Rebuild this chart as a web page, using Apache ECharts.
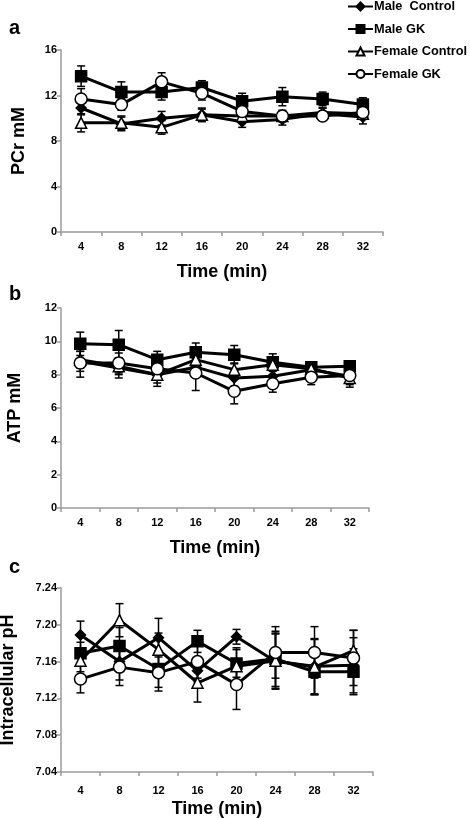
<!DOCTYPE html>
<html><head><meta charset="utf-8">
<script src="https://cdn.jsdelivr.net/npm/echarts@6/dist/echarts.min.js"></script>
<style>html,body{margin:0;padding:0;background:#fff}#c{width:470px;height:818px}</style>
</head><body><div id="c"></div>
<script>
const times = ['4','8','12','16','20','24','28','32'];
const groupNames = ['Male  Control','Male GK','Female Control','Female GK'];

const maleControlPCr   = [10.9, 9.5, 10.0, 10.3, 9.7, 9.9, 10.4, 10.1];
const maleGKPCr        = [13.7, 12.3, 12.3, 12.7, 11.5, 11.9, 11.7, 11.2];
const femaleControlPCr = [9.6, 9.6, 9.2, 10.3, 10.2, 10.2, 10.5, 10.4];
const femaleGKPCr      = [11.7, 11.2, 13.2, 12.2, 10.6, 10.2, 10.2, 10.5];
const maleControlPCrErr   = [0.6, 0.6, 0.6, 0.6, 0.5, 0.5, 0.5, 0.6];
const maleGKPCrErr        = [0.9, 0.9, 0.7, 0.6, 0.7, 0.8, 0.6, 0.6];
const femaleControlPCrErr = [0.8, 0.6, 0.6, 0.5, 0.5, 0.5, 0.4, 0.5];
const femaleGKPCrErr      = [0.9, 0.5, 0.8, 0.6, 0.4, 0.4, 0.4, 0.4];

const maleControlATP   = [8.8, 8.4, 8.0, 8.45, 7.8, 7.9, 8.3, 7.9];
const maleGKATP        = [9.85, 9.8, 8.9, 9.35, 9.2, 8.75, 8.45, 8.5];
const femaleControlATP = [8.9, 8.5, 8.0, 8.9, 8.3, 8.6, 8.35, 7.8];
const femaleGKATP      = [8.7, 8.7, 8.35, 8.1, 7.0, 7.45, 7.85, 7.95];
const maleControlATPErr   = [0.6, 0.6, 0.7, 0.5, 0.5, 0.4, 0.3, 0.65];
const maleGKATPErr        = [0.7, 0.85, 0.5, 0.55, 0.55, 0.5, 0.25, 0.25];
const femaleControlATPErr = [0.5, 0.5, 0.5, 0.5, 0.4, 0.4, 0.3, 0.4];
const femaleGKATPErr      = [0.85, 0.6, 0.4, 1.05, 0.75, 0.5, 0.45, 0.3];

const maleControlPH   = [7.189, 7.160, 7.186, 7.150, 7.187, 7.160, 7.155, 7.156];
const maleGKPH        = [7.169, 7.177, 7.152, 7.182, 7.158, 7.163, 7.149, 7.149];
const femaleControlPH = [7.161, 7.205, 7.173, 7.137, 7.155, 7.161, 7.154, 7.172];
const femaleGKPH      = [7.141, 7.154, 7.148, 7.160, 7.135, 7.170, 7.170, 7.164];
const maleControlPHErr   = [0.015, 0.02, 0.021, 0.012, 0.008, 0.03, 0.03, 0.03];
const maleGKPHErr        = [0.012, 0.02, 0.02, 0.012, 0.015, 0.03, 0.025, 0.025];
const femaleControlPHErr = [0.012, 0.018, 0.018, 0.021, 0.02, 0.03, 0.03, 0.022];
const femaleGKPHErr      = [0.015, 0.02, 0.02, 0.018, 0.027, 0.028, 0.028, 0.03];

const panels = [
  {vals:[maleControlPCr,maleGKPCr,femaleControlPCr,femaleGKPCr], errs:[maleControlPCrErr,maleGKPCrErr,femaleControlPCrErr,femaleGKPCrErr]},
  {vals:[maleControlATP,maleGKATP,femaleControlATP,femaleGKATP], errs:[maleControlATPErr,maleGKATPErr,femaleControlATPErr,femaleGKATPErr]},
  {vals:[maleControlPH,maleGKPH,femaleControlPH,femaleGKPH], errs:[maleControlPHErr,maleGKPHErr,femaleControlPHErr,femaleGKPHErr]}
];

const FONT = '"Liberation Sans", Arial, Helvetica, sans-serif';
const symbols = ['diamond','rect','triangle','circle'];
const fills = ['#000','#000','#fff','#fff'];
const sizes = [10, 11, 11, 12];

const grids = [
  {left:61, top:50, width:322, height:182, outerBoundsMode:'none', containLabel:false},
  {left:61, top:308, width:308, height:200, outerBoundsMode:'none', containLabel:false},
  {left:61, top:588, width:312, height:184, outerBoundsMode:'none', containLabel:false}
];
const yCfg = [
  {min:0, max:16, interval:4, name:'PCr mM', gap:33, fmt:v=>String(v)},
  {min:0, max:12, interval:2, name:'ATP mM', gap:37, fmt:v=>String(v)},
  {min:7.04, max:7.24, interval:0.04, name:'Intracellular pH', gap:44, fmt:v=>v.toFixed(2)}
];

const axisLine = {lineStyle:{color:'#9a9a9a', width:1.5}};
const xAxis = grids.map((g,i)=>({
  type:'category', gridIndex:i, data:times, boundaryGap:true,
  axisLine, axisTick:{show:true, length:4, lineStyle:{color:'#9a9a9a', width:1.5}},
  axisLabel:{color:'#000', fontFamily:FONT, fontWeight:'bold', fontSize:11, margin:[9,9,13][i]},
  name:'Time (min)', nameLocation:'middle', nameGap:[31,31,28][i],
  nameTextStyle:{color:'#000', fontFamily:FONT, fontWeight:'bold', fontSize:18}
}));
const yAxis = yCfg.map((c,i)=>({
  type:'value', gridIndex:i, min:c.min, max:c.max, interval:c.interval,
  splitLine:{show:false}, axisLine:{show:true, lineStyle:{color:'#9a9a9a', width:1.5}},
  axisTick:{show:true, length:4, lineStyle:{color:'#9a9a9a', width:1.5}},
  axisLabel:{color:'#000', fontFamily:FONT, fontWeight:'bold', fontSize:11, margin:4, formatter:c.fmt},
  name:c.name, nameLocation:'middle', nameGap:c.gap, nameRotate:90,
  nameTextStyle:{color:'#000', fontFamily:FONT, fontWeight:'bold', fontSize:18}
}));

const lineSeries = [], errSeries = [];
panels.forEach((p,pi)=>{
  p.vals.forEach((vals,gi)=>{
    const errs = p.errs[gi];
    errSeries.push({
      type:'custom', name:groupNames[gi] + ' error', xAxisIndex:pi, yAxisIndex:pi, z:2,
      itemStyle:{color:'#000'},
      data: vals.map((v,k)=>[k, v, errs[k]]),
      encode:{x:0, y:1},
      renderItem:(params, api)=>{
        const x = api.value(0), y = api.value(1), e = api.value(2);
        const top = api.coord([x, y+e]);
        const bot = api.coord([x, y-e]);
        const cw = 4;
        return {type:'group', children:[
          {type:'line', shape:{x1:top[0], y1:top[1], x2:bot[0], y2:bot[1]}, style:{stroke:'#000', lineWidth:1.5}},
          {type:'line', shape:{x1:top[0]-cw, y1:top[1], x2:top[0]+cw, y2:top[1]}, style:{stroke:'#000', lineWidth:1.5}},
          {type:'line', shape:{x1:bot[0]-cw, y1:bot[1], x2:bot[0]+cw, y2:bot[1]}, style:{stroke:'#000', lineWidth:1.5}}
        ]};
      }
    });
    lineSeries.push({
      type:'line', name:groupNames[gi], xAxisIndex:pi, yAxisIndex:pi, data:vals, z:3+gi,
      symbol:symbols[gi], symbolSize:sizes[gi], showAllSymbol:true,
      lineStyle:{color:'#000', width:3},
      itemStyle:{color:fills[gi], borderColor:'#000', borderWidth:1.5},
      emphasis:{disabled:true}, animation:false
    });
  });
});

const chart = echarts.init(document.getElementById('c'), null, {renderer:'canvas'});
chart.setOption({
  animation:false,
  grid:grids,
  xAxis, yAxis,
  legend:{
    orient:'vertical', left:347, top:0, padding:0, itemGap:9.5, itemWidth:25, itemHeight:10,
    data:groupNames.map(n=>({name:n})),
    textStyle:{color:'#000', fontFamily:FONT, fontWeight:'bold', fontSize:12.8, padding:[0,0,0,-4]},
    selectedMode:false
  },
  graphic:[
    {type:'text', left:9, top:18, style:{text:'a', font:'bold 20px '+FONT, fill:'#000'}},
    {type:'text', left:9, top:284, style:{text:'b', font:'bold 20px '+FONT, fill:'#000'}},
    {type:'text', left:9, top:557, style:{text:'c', font:'bold 20px '+FONT, fill:'#000'}}
  ],
  series: lineSeries.concat(errSeries)
});
</script></body></html>
